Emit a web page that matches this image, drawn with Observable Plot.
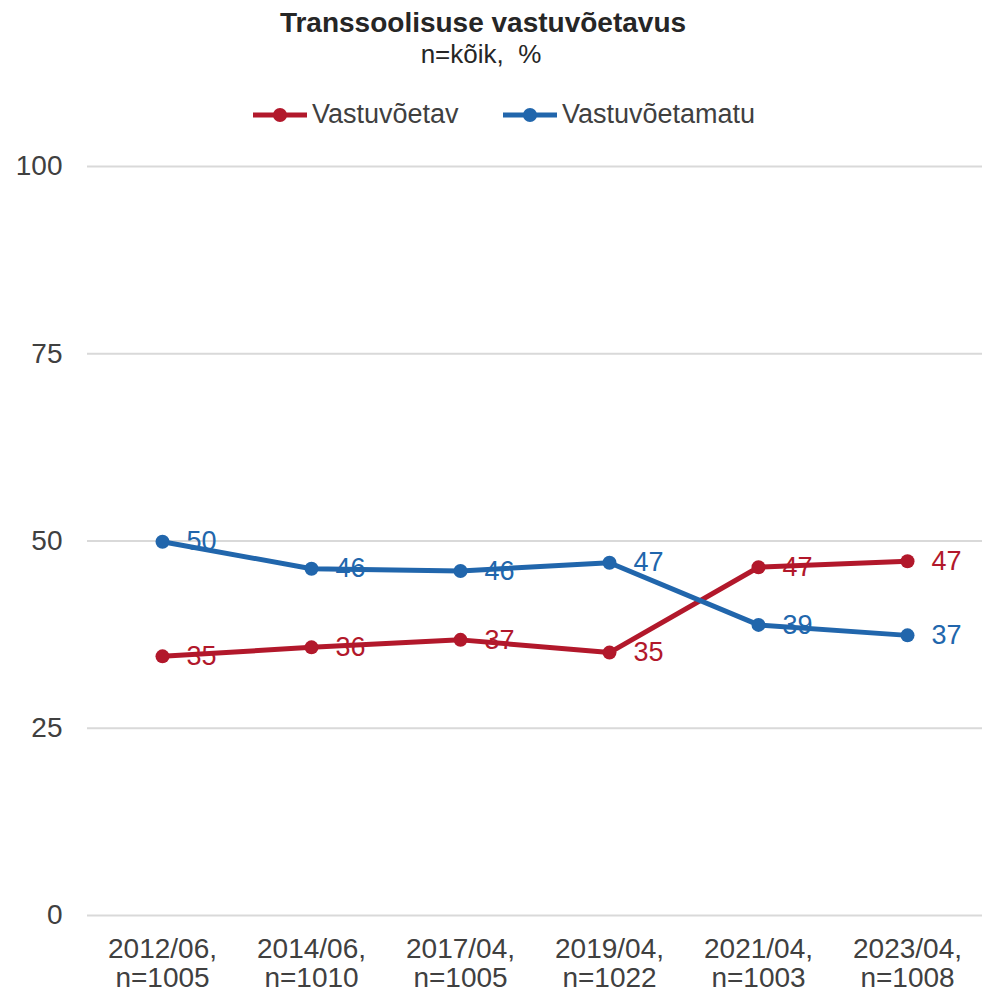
<!DOCTYPE html>
<html><head><meta charset="utf-8">
<script src="https://cdn.jsdelivr.net/npm/d3@7"></script>
<script src="https://cdn.jsdelivr.net/npm/@observablehq/plot@0.6"></script>
<style>
body{margin:0;background:#fff;font-family:"Liberation Sans",Arial,sans-serif;color:#262626;}
#wrap{position:relative;width:982px;}
#head{position:relative;height:140px;}
#title{position:absolute;left:0;width:966px;top:9px;text-align:center;font-weight:bold;font-size:28px;line-height:1;}
#sub{position:absolute;left:0;width:962px;top:41px;text-align:center;font-size:26px;line-height:1;}
.item{position:absolute;top:101px;display:flex;align-items:center;font-size:27px;line-height:1;color:#404040;white-space:nowrap;}
.item svg{margin-right:5px;}
</style></head><body>
<div id="wrap"><div id="head">
<div id="title">Transsoolisuse vastuvõetavus</div>
<div id="sub">n=kõik,&nbsp; %</div>
<div id="legend"></div>
</div><div id="chart"></div></div>
<script>
const periods = ["2012/06","2014/06","2017/04","2019/04","2021/04","2023/04"];
const sampleSizes = [1005,1010,1005,1022,1003,1008];
const seriesNames = ["Vastuvõetav","Vastuvõetamatu"];
const seriesColors = ["#b2182b","#2166ac"];
const acceptable = [34.6,35.8,36.8,35.1,46.5,47.3];
const unacceptable = [49.9,46.3,46.0,47.1,38.8,37.4];
const yTicks = [0,25,50,75,100];

const cats = periods.map((p,i)=>`${p},\nn=${sampleSizes[i]}`);
const seriesValues = [acceptable, unacceptable];
const data = seriesNames.flatMap((s,k)=>cats.map((c,i)=>({cat:c, series:s, value:seriesValues[k][i]})));

// legend
const leg = document.getElementById("legend");
const legLeft = [253, 503];
seriesNames.forEach((s,k)=>{
  const it = document.createElement("div"); it.className="item";
  it.style.left = legLeft[k] + "px";
  it.innerHTML = `<svg width="54" height="16"><line x1="0" x2="54" y1="8" y2="8" stroke="${seriesColors[k]}" stroke-width="5"/><circle cx="27" cy="8" r="7" fill="${seriesColors[k]}"/></svg><span>${s}</span>`;
  leg.appendChild(it);
});

const chart = Plot.plot({
  width:982, height:855, marginTop:26, marginBottom:80, marginLeft:87, marginRight:0,
  style:{fontFamily:"Liberation Sans, Arial, sans-serif", fontSize:"28px", color:"#404040", background:"#fff"},
  x:{type:"point", domain:cats, range:[160,909], padding:0, label:null},
  y:{domain:[0,100], label:null},
  color:{domain:seriesNames, range:seriesColors},
  marks:[
    Plot.ruleY(yTicks, {stroke:"#d9d9d9", strokeWidth:2}),
    Plot.axisY({ticks:yTicks, tickSize:0, tickPadding:25, fontSize:28, label:null}),
    Plot.axisX({tickSize:0, tickPadding:21, fontSize:28, lineHeight:1.06, label:null}),
    Plot.line(data, {x:"cat", y:"value", z:"series", stroke:"series", strokeWidth:5}),
    Plot.dot(data, {x:"cat", y:"value", fill:"series", r:7}),
    Plot.text(data, {x:"cat", y:"value", text:d=>Math.round(d.value), fill:"series", dx:24, textAnchor:"start", fontSize:27})
  ]
});
document.getElementById("chart").appendChild(chart);
</script>
</body></html>
